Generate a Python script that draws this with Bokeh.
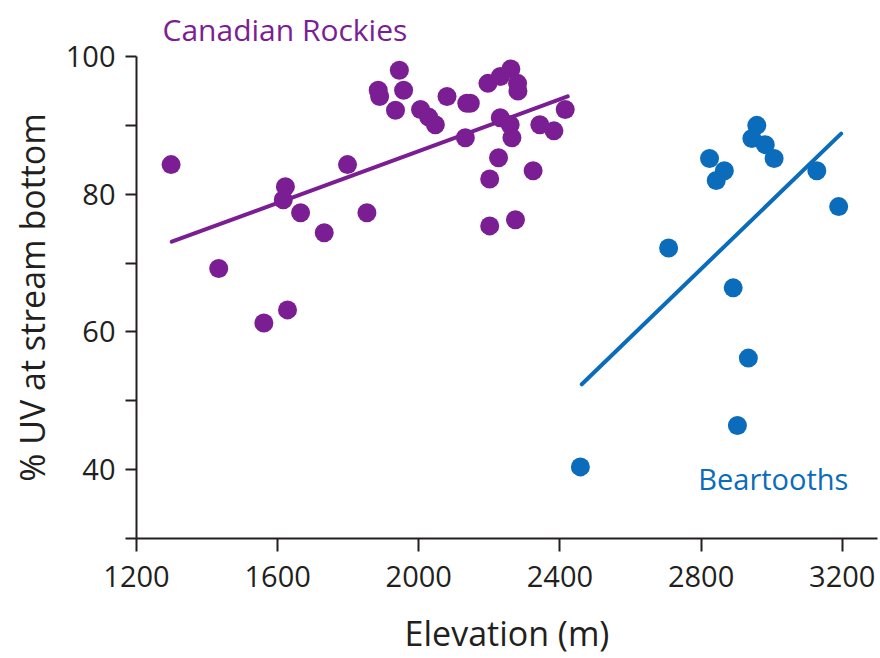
from bokeh.plotting import figure
from bokeh.models import ColumnDataSource, FixedTicker, Label, Range1d
from bokeh.embed import file_html
from bokeh.resources import INLINE

# Canadian Rockies sites: elevation (m) and % UV reaching the stream bottom
rockies_elev = [1298, 1433, 1561, 1628, 1622, 1616, 1665, 1732, 1798, 1853,
                1945, 1885, 1889, 1957, 1934, 2005, 2028, 2047, 2080, 2136,
                2146, 2132, 2196, 2226, 2201, 2201, 2274, 2324, 2231, 2259,
                2264, 2231, 2261, 2280, 2281, 2343, 2383, 2415]
rockies_uv = [84.3, 69.2, 61.3, 63.2, 81.1, 79.2, 77.3, 74.4, 84.3, 77.3,
              98.0, 95.1, 94.2, 95.1, 92.2, 92.3, 91.2, 90.1, 94.2, 93.2,
              93.2, 88.2, 96.1, 85.3, 82.2, 75.4, 76.3, 83.4, 91.1, 90.1,
              88.2, 97.1, 98.2, 96.1, 95.0, 90.1, 89.2, 92.3]

# Beartooth Mountains sites
bear_elev = [2958, 2944, 2982, 3007, 2824, 2866, 2843, 3128, 3190, 2708,
             2891, 2934, 2903, 2458]
bear_uv = [90.0, 88.1, 87.2, 85.2, 85.2, 83.4, 82.0, 83.4, 78.2, 72.2,
           66.4, 56.2, 46.4, 40.4]

# Fitted trend lines (end points)
rockies_fit_x = [1300, 2422]
rockies_fit_y = [73.1, 94.2]
bear_fit_x = [2462, 3197]
bear_fit_y = [52.4, 88.8]

x_ticks = [1200, 1600, 2000, 2400, 2800, 3200]
y_ticks = [40, 60, 80, 100]
y_minor = [30, 50, 70, 90]

PURPLE = "#7b1e93"
BLUE = "#0a6cba"
INK = "#231f20"
FONT = "Open Sans"

p = figure(width=880, height=658, output_backend="svg", toolbar_location=None,
           x_range=Range1d(1200, 3300), y_range=Range1d(30, 100),
           min_border_left=136, min_border_right=3,
           min_border_top=55, min_border_bottom=119)
p.outline_line_color = None
p.grid.grid_line_color = None
p.background_fill_color = "white"
p.border_fill_color = "white"

# Series name for the Rockies sits above the plot area, left aligned
p.title.text = "Canadian Rockies"
p.title.text_color = PURPLE
p.title.text_font = FONT
p.title.text_font_size = "30px"
p.title.text_font_style = "normal"
p.title.align = "left"
p.title.offset = 26
p.title.standoff = 13

for ax in (p.xaxis[0], p.yaxis[0]):
    ax.axis_line_color = INK
    ax.axis_line_width = 2
    ax.major_tick_line_color = INK
    ax.major_tick_line_width = 2
    ax.minor_tick_line_color = INK
    ax.minor_tick_line_width = 2
    ax.major_tick_in = 0
    ax.minor_tick_in = 0
    ax.major_label_text_font = FONT
    ax.major_label_text_font_size = "29px"
    ax.major_label_text_color = INK
    ax.axis_label_text_font = FONT
    ax.axis_label_text_font_size = "34px"
    ax.axis_label_text_font_style = "normal"
    ax.axis_label_text_color = INK

p.xaxis.ticker = FixedTicker(ticks=x_ticks)
p.xaxis.major_tick_out = 13
p.xaxis.minor_tick_out = 0
p.xaxis.major_label_standoff = 14
p.xaxis.axis_label = "Elevation (m)"
p.xaxis.axis_label_standoff = 20

p.yaxis.ticker = FixedTicker(ticks=y_ticks, minor_ticks=y_minor)
p.yaxis.major_tick_out = 11
p.yaxis.minor_tick_out = 11
p.yaxis.major_label_standoff = 10
p.yaxis.axis_label = "% UV at stream bottom"
p.yaxis.axis_label_standoff = 8

rockies = ColumnDataSource(dict(x=rockies_elev, y=rockies_uv))
bear = ColumnDataSource(dict(x=bear_elev, y=bear_uv))

p.line(rockies_fit_x, rockies_fit_y, line_color=PURPLE, line_width=4, line_cap="round")
p.line(bear_fit_x, bear_fit_y, line_color=BLUE, line_width=4, line_cap="round")
p.scatter("x", "y", source=rockies, size=19, fill_color=PURPLE, line_color=None)
p.scatter("x", "y", source=bear, size=19, fill_color=BLUE, line_color=None)

p.add_layout(Label(x=2792, y=38.7, text="Beartooths", text_color=BLUE,
                   text_font=FONT, text_font_size="29px", text_baseline="middle"))

open("out.html", "w").write(file_html(p, INLINE))
